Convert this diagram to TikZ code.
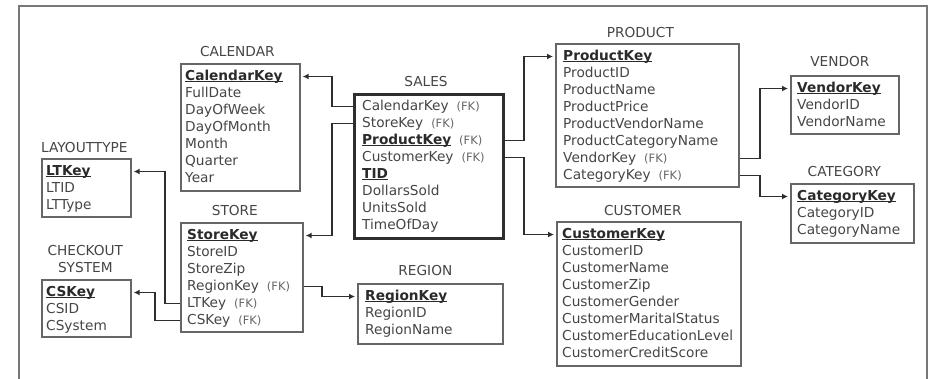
\documentclass[tikz,border=0pt]{standalone}
\usepackage{fontspec}
\setmainfont{DejaVu Sans}
\usetikzlibrary{arrows.meta,calc}

\definecolor{txt}{HTML}{454545}
\definecolor{keytxt}{HTML}{2A2A2A}
\definecolor{edge}{HTML}{666666}
\definecolor{wire}{HTML}{2E2E2E}
\definecolor{framec}{HTML}{777777}

\newcommand\rowfont{\fontsize{13.7}{17}\selectfont}
\newcommand\fkfont{\fontsize{11.5}{12}\selectfont}
% primary key: bold with an underline
\newcommand\pk[1]{\setbox0\hbox{\bfseries\color{keytxt}#1}\rlap{\color{keytxt}\rule[-2.4pt]{\wd0}{1.1pt}}\box0}
% foreign key marker
\newcommand\fk{\hspace{8pt}{\fkfont\color{edge}(FK)}}

\begin{document}
\begin{tikzpicture}[x=1pt,y=-1pt,
  every node/.style={inner sep=0pt},
  tbl/.style={draw=edge, line width=1.7pt, anchor=north west},
  facttbl/.style={draw=wire, line width=3pt, anchor=north west},
  row/.style={anchor=base west, text height=10pt, text depth=3pt, font=\rowfont, text=txt},
  ttl/.style={font=\rowfont, text=txt, align=center},
  wirearrow/.style={draw=wire, line width=1.8pt, -{Latex[length=6pt,width=6pt]}, shorten >=2pt},
  framebox/.style={draw=framec, line width=1.8pt}]

\useasboundingbox (0,0) rectangle (933,378);

% outer frame, open at the bottom
\draw[framebox] (19,380) -- (19,6) -- (927,6) -- (927,380);

% ---------- tables ----------
\node[tbl, minimum width=119, minimum height=127] (cal) at (180,63) {};
\node[ttl] (tcal) at ($(cal.north)+(-3,-11)$) {CALENDAR};
\foreach \t [count=\i] in {{\pk{CalendarKey}},FullDate,DayOfWeek,DayOfMonth,Month,Quarter,Year}
  \node[row] (cal\i) at ($(cal.north west)+(5,17*\i)$) {\t};

\node[facttbl, minimum width=149, minimum height=144] (sales) at (353,93) {};
\node[ttl] (tsales) at ($(sales.north)+(-3,-11)$) {SALES};
\foreach \t [count=\i] in {{CalendarKey\fk},{StoreKey\fk},{\pk{ProductKey}\fk},{CustomerKey\fk},{\pk{TID}},DollarsSold,UnitsSold,TimeOfDay}
  \node[row] (s\i) at ($(sales.north west)+(9,17*\i)$) {\t};

\node[tbl, minimum width=183, minimum height=143] (prod) at (555,43) {};
\node[ttl] (tprod) at ($(prod.north)+(-7,-10)$) {PRODUCT};
\foreach \t [count=\i] in {{\pk{ProductKey}},ProductID,ProductName,ProductPrice,ProductVendorName,ProductCategoryName,{VendorKey\fk},{CategoryKey\fk}}
  \node[row] (p\i) at ($(prod.north west)+(8,17*\i)$) {\t};

\node[tbl, minimum width=108, minimum height=58] (vend) at (790,75) {};
\node[ttl] (tvend) at ($(vend.north)+(-5,-13)$) {VENDOR};
\foreach \t [count=\i] in {{\pk{VendorKey}},VendorID,VendorName}
  \node[row] (v\i) at ($(vend.north west)+(7,17*\i)$) {\t};

\node[tbl, minimum width=123, minimum height=59] (cat) at (790,183) {};
\node[ttl] (tcat) at ($(cat.north)+(-8,-11)$) {CATEGORY};
\foreach \t [count=\i] in {{\pk{CategoryKey}},CategoryID,CategoryName}
  \node[row] (ca\i) at ($(cat.north west)+(7,17*\i)$) {\t};

\node[tbl, minimum width=89, minimum height=58] (lt) at (41,158) {};
\node[ttl] (tlt) at ($(lt.north)+(-2,-10)$) {LAYOUTTYPE};
\foreach \t [count=\i] in {{\pk{LTKey}},LTID,LTType}
  \node[row] (lt\i) at ($(lt.north west)+(5,17*\i)$) {\t};

\node[tbl, minimum width=89, minimum height=57] (cs) at (41,279) {};
\node[ttl] (tcs) at ($(cs.north)+(-1,-20)$) {CHECKOUT\\SYSTEM};
\foreach \t [count=\i] in {{\pk{CSKey}},CSID,CSystem}
  \node[row] (cs\i) at ($(cs.north west)+(5,17*\i)$) {\t};

\node[tbl, minimum width=122, minimum height=109] (store) at (180,222) {};
\node[ttl] (tstore) at ($(store.north)+(-7,-11)$) {STORE};
\foreach \t [count=\i] in {{\pk{StoreKey}},StoreID,StoreZip,{RegionKey\fk},{LTKey\fk},{CSKey\fk}}
  \node[row] (st\i) at ($(store.north west)+(7,17*\i)$) {\t};

\node[tbl, minimum width=145, minimum height=60] (reg) at (357,283) {};
\node[ttl] (treg) at ($(reg.north)+(-5,-12)$) {REGION};
\foreach \t [count=\i] in {{\pk{RegionKey}},RegionID,RegionName}
  \node[row] (r\i) at ($(reg.north west)+(8,17*\i)$) {\t};

\node[tbl, minimum width=184, minimum height=144] (cust) at (556,221) {};
\node[ttl] (tcust) at ($(cust.north)+(-6,-10)$) {CUSTOMER};
\foreach \t [count=\i] in {{\pk{CustomerKey}},CustomerID,CustomerName,CustomerZip,CustomerGender,CustomerMaritalStatus,CustomerEducationLevel,CustomerCreditScore}
  \node[row] (cu\i) at ($(cust.north west)+(6,17*\i)$) {\t};

% ---------- bend columns of the key links ----------
\coordinate (jleft) at (332,0);
\coordinate (jright) at (524,0);
\coordinate (jprod) at (760,0);
\coordinate (jreg) at (322,0);
\coordinate (jlt) at (165,0);
\coordinate (jcs) at (155,0);

% ---------- foreign key links ----------
\draw[wirearrow] (sales.west |- s1) -- (jleft |- s1) -- (jleft |- cal1) -- (cal.east |- cal1);
\draw[wirearrow] (sales.west |- s2) -- (jleft |- s2) -- (jleft |- st1) -- (store.east |- st1);
\draw[wirearrow] (sales.east |- s3) -- (jright |- s3) -- (jright |- p1) -- (prod.west |- p1);
\draw[wirearrow] (sales.east |- s4) -- (jright |- s4) -- (jright |- cu1) -- (cust.west |- cu1);
\draw[wirearrow] (prod.east |- p7) -- (jprod |- p7) -- (jprod |- v1) -- (vend.west |- v1);
\draw[wirearrow] (prod.east |- p8) -- (jprod |- p8) -- (jprod |- ca1) -- (cat.west |- ca1);
\draw[wirearrow] (store.east |- st4) -- (jreg |- st4) -- (jreg |- r1) -- (reg.west |- r1);
\draw[wirearrow] (store.west |- st5) -- (jlt |- st5) -- (jlt |- lt1) -- (lt.east |- lt1);
\draw[wirearrow] (store.west |- st6) -- (jcs |- st6) -- (jcs |- cs1) -- (cs.east |- cs1);

\end{tikzpicture}
\end{document}
